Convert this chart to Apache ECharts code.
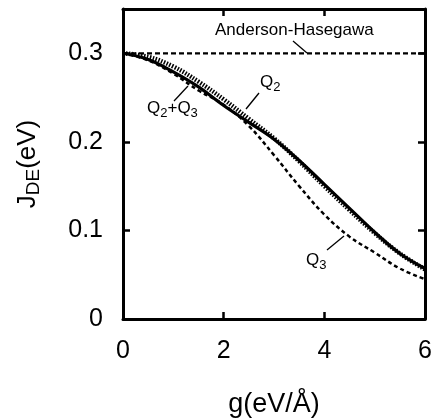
<!DOCTYPE html>
<html><head><meta charset="utf-8">
<script src="https://cdn.jsdelivr.net/npm/echarts@6/dist/echarts.min.js"></script>
<style>html,body{margin:0;padding:0;background:#fff}#c{width:434px;height:418px}</style>
</head><body><div id="c"></div>
<script>
const gValues = [0, 0.5, 1, 1.5, 2, 2.5, 3, 3.5, 4, 4.5, 5, 5.5, 6];
const andersonHasegawa = [0.3, 0.3, 0.3, 0.3, 0.3, 0.3, 0.3, 0.3, 0.3, 0.3, 0.3, 0.3, 0.3];
const q2 = [0.300, 0.296, 0.285, 0.268, 0.248, 0.226, 0.204, 0.178, 0.150, 0.123, 0.097, 0.074, 0.056];
const q2q3 = [0.300, 0.293, 0.279, 0.262, 0.241, 0.222, 0.203, 0.179, 0.152, 0.125, 0.098, 0.074, 0.057];
const q3 = [0.300, 0.292, 0.277, 0.258, 0.242, 0.218, 0.185, 0.150, 0.118, 0.093, 0.075, 0.057, 0.045];
const xTicks = [0, 2, 4, 6];
const yTicks = [0, 0.1, 0.2, 0.3];

const FONT = 'Liberation Sans';
const pair = (arr) => gValues.map((g, i) => [g, arr[i]]);
const chart = echarts.init(document.getElementById('c'), null, {renderer: 'canvas'});
const axisLine = {show: true, onZero: false, lineStyle: {color: '#000', width: 3}};
const tick = {show: true, inside: true, length: 7, lineStyle: {color: '#000', width: 2.5}};
const rich = {
  m: {fontSize: 17, fontFamily: FONT, color: '#000'},
  s: {fontSize: 13, fontFamily: FONT, color: '#000', padding: [9, 0, 0, 0]}
};
chart.setOption({
  animation: false,
  backgroundColor: '#fff',
  grid: {left: 123, top: 9, width: 302, height: 310, containLabel: false, outerBoundsMode: 'none'},
  xAxis: [{
    type: 'value', min: 0, max: 6, interval: 2, position: 'bottom',
    axisLine, axisTick: tick, splitLine: {show: false},
    axisLabel: {margin: 20, fontSize: 25, color: '#000', fontFamily: FONT,
      formatter: v => xTicks.includes(v) ? String(v) : ''},
    name: 'g(eV/Å)', nameLocation: 'middle', nameGap: 72,
    nameTextStyle: {fontSize: 27, color: '#000', fontFamily: FONT}
  }, {
    type: 'value', min: 0, max: 6, interval: 2, position: 'top',
    axisLine, axisTick: tick, axisLabel: {show: false}, splitLine: {show: false}
  }],
  yAxis: [{
    type: 'value', min: 0, max: 0.35, interval: 0.1, position: 'left',
    axisLine, axisTick: tick, splitLine: {show: false},
    axisLabel: {margin: 20, fontSize: 25, color: '#000', fontFamily: FONT, showMaxLabel: false,
      formatter: v => { const r = Math.round(v * 10) / 10; return yTicks.includes(r) && Math.abs(r - v) < 1e-6 ? String(r) : ''; }},
    name: '{m|J}{s|DE}{m|(eV)}', nameLocation: 'middle', nameGap: 80, nameRotate: 90,
    nameTextStyle: {rich: {
      m: {fontSize: 26, color: '#000', fontFamily: FONT},
      s: {fontSize: 19, color: '#000', fontFamily: FONT, padding: [12, 0, 0, 0]}
    }}
  }, {
    type: 'value', min: 0, max: 0.35, interval: 0.1, position: 'right',
    axisLine, axisTick: tick, axisLabel: {show: false}, splitLine: {show: false}
  }],
  series: [
    {type: 'line', name: 'Anderson-Hasegawa', data: pair(andersonHasegawa), showSymbol: false,
      lineStyle: {color: '#000', width: 2.2, type: [5, 3]}},
    {type: 'line', name: 'Q2', data: pair(q2), smooth: 0.4, showSymbol: false,
      lineStyle: {color: '#000', width: 4.5, type: [1.5, 1.5]}},
    {type: 'line', name: 'Q3', data: pair(q3), smooth: 0.4, showSymbol: false,
      lineStyle: {color: '#000', width: 2.5, type: [4, 3]}},
    {type: 'line', name: 'Q2+Q3', data: pair(q2q3), smooth: 0.4, showSymbol: false,
      lineStyle: {color: '#000', width: 3.2}}
  ],
  graphic: [
    {type: 'text', left: 215, top: 22, style: {text: 'Anderson-Hasegawa', font: '17px ' + FONT, fill: '#000'}},
    {type: 'line', shape: {x1: 293, y1: 41, x2: 307, y2: 53}, style: {stroke: '#000', lineWidth: 1.3}},
    {type: 'text', left: 260, top: 74, style: {text: '{m|Q}{s|2}', rich}},
    {type: 'line', shape: {x1: 259, y1: 93, x2: 246, y2: 109}, style: {stroke: '#000', lineWidth: 1.3}},
    {type: 'text', left: 147, top: 100, style: {text: '{m|Q}{s|2}{m|+Q}{s|3}', rich}},
    {type: 'line', shape: {x1: 174, y1: 101, x2: 188, y2: 86}, style: {stroke: '#000', lineWidth: 1.3}},
    {type: 'text', left: 306, top: 252, style: {text: '{m|Q}{s|3}', rich}},
    {type: 'line', shape: {x1: 327, y1: 250, x2: 344, y2: 236}, style: {stroke: '#000', lineWidth: 1.3}}
  ]
});
</script></body></html>
